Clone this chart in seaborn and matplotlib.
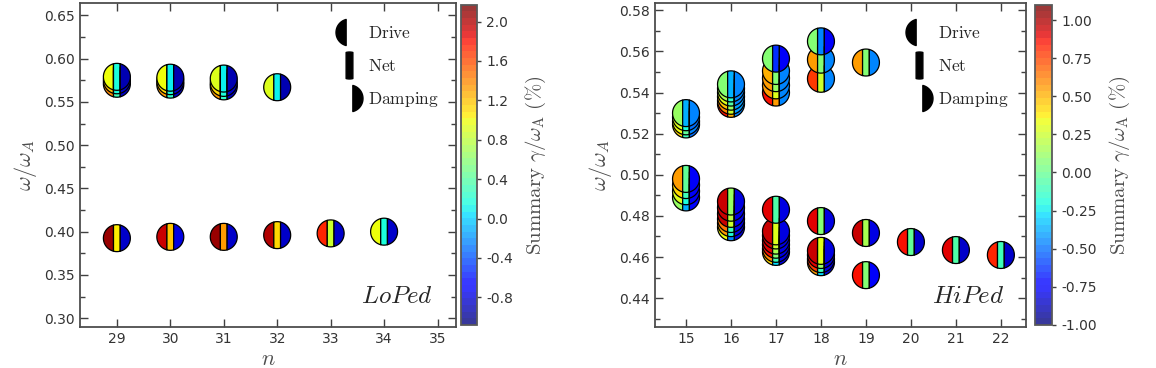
import numpy as np
import pandas as pd
import matplotlib
matplotlib.use("Agg")
import matplotlib.pyplot as plt
import seaborn as sns
from matplotlib.path import Path
from matplotlib.markers import MarkerStyle
from matplotlib.lines import Line2D
from matplotlib.colors import Normalize
from matplotlib.ticker import MultipleLocator

# --- DATA ---
# LoPed
lo_n = [29, 29, 29, 30, 30, 30, 31, 31, 31, 32,
        29, 30, 31, 32, 33, 34]
lo_omega = [0.571, 0.575, 0.579, 0.570, 0.574, 0.578, 0.568, 0.572, 0.577, 0.567,
            0.3925, 0.394, 0.394, 0.396, 0.398, 0.400]
lo_drive = [1.40, 1.20, 1.00, 1.35, 1.15, 1.00, 1.30, 1.10, 0.90, 0.95,
            2.05, 1.95, 2.05, 2.00, 1.70, 1.00]
lo_net = [0.30, 0.20, 0.15, 0.25, 0.20, 0.10, 0.25, 0.15, 0.10, 0.10,
          1.05, 1.20, 1.35, 1.15, 0.85, 0.15]
lo_damping = [-0.85, -0.85, -0.90, -0.85, -0.85, -0.90, -0.85, -0.85, -0.90, -0.90,
              -0.85, -0.80, -0.85, -0.85, -0.85, -0.85]

# HiPed
hi_n = [15, 15, 15, 15,
        16, 16, 16, 16, 16, 16,
        17, 17, 17, 17, 17,
        18, 18, 18,
        19,
        15, 15, 15, 15,
        16, 16, 16, 16, 16, 16,
        17, 17, 17, 17, 17, 17, 17,
        18, 18, 18, 18, 18,
        19, 19, 20, 21, 22]
hi_omega = [0.5245, 0.526, 0.528, 0.530,
            0.5345, 0.536, 0.538, 0.540, 0.542, 0.544,
            0.540, 0.5435, 0.547, 0.5505, 0.5565,
            0.5467, 0.556, 0.5649,
            0.5546,
            0.489, 0.492, 0.495, 0.498,
            0.4745, 0.4765, 0.4785, 0.481, 0.484, 0.487,
            0.4625, 0.464, 0.466, 0.468, 0.4705, 0.4725, 0.483,
            0.4575, 0.459, 0.461, 0.463, 0.4775,
            0.4512, 0.4717, 0.4673, 0.4634, 0.461]
hi_drive = [0.40, 0.35, 0.30, 0.10,
            0.85, 0.60, 0.45, 0.30, 0.15, 0.05,
            0.85, 0.55, 0.55, 0.50, 0.05,
            0.75, 0.55, 0.05,
            0.55,
            0.10, 0.30, 0.40, 0.55,
            0.35, 0.55, 0.65, 0.95, 0.95, 0.95,
            0.40, 0.60, 0.85, 0.90, 0.95, 0.95, 0.90,
            0.55, 0.75, 0.90, 0.95, 0.90,
            0.85, 0.95, 0.85, 0.90, 0.80]
hi_net = [-0.10, 0.00, -0.20, -0.35,
          0.50, 0.25, 0.10, -0.05, -0.15, -0.35,
          0.55, 0.30, 0.10, 0.05, -0.65,
          0.25, 0.05, -0.45,
          0.05,
          -0.35, -0.20, -0.10, 0.00,
          -0.45, -0.20, -0.10, 0.25, 0.20, 0.10,
          -0.30, -0.10, 0.05, 0.15, 0.25, 0.30, -0.05,
          -0.30, -0.10, 0.10, 0.30, 0.05,
          0.05, 0.15, 0.00, -0.05, -0.10]
hi_damping = [-0.50, -0.45, -0.50, -0.45,
              -0.45, -0.40, -0.40, -0.45, -0.45, -0.45,
              -0.45, -0.45, -0.45, -0.45, -0.75,
              -0.45, -0.45, -0.75,
              -0.45,
              -0.70, -0.75, -0.75, -0.75,
              -0.80, -0.80, -0.80, -0.80, -0.80, -0.80,
              -0.80, -0.80, -0.80, -0.80, -0.80, -0.80, -0.80,
              -0.80, -0.80, -0.80, -0.80, -0.80,
              -0.75, -0.80, -0.85, -0.85, -0.85]

lo_ticks = [-0.8, -0.4, 0.0, 0.4, 0.8, 1.2, 1.6, 2.0]
hi_ticks = [-1.0, -0.75, -0.5, -0.25, 0.0, 0.25, 0.5, 0.75, 1.0]

# --- STYLE ---
sns.set_style("ticks")
plt.rcParams["font.family"] = ["DejaVu Sans"]
plt.rcParams["mathtext.fontset"] = "cm"
plt.rcParams["axes.edgecolor"] = "0.3"
plt.rcParams["axes.linewidth"] = 1.3
for ax_ in ("xtick", "ytick"):
    plt.rcParams[ax_ + ".direction"] = "in"
    plt.rcParams[ax_ + ".color"] = "0.25"
    plt.rcParams[ax_ + ".labelcolor"] = "0.2"
    plt.rcParams[ax_ + ".labelsize"] = 10
    plt.rcParams[ax_ + ".major.size"] = 6
    plt.rcParams[ax_ + ".minor.size"] = 3.5
    plt.rcParams[ax_ + ".major.width"] = 1.0
    plt.rcParams[ax_ + ".minor.width"] = 1.0

# --- split-circle markers: Drive (left), Net (stripe), Damping (right) ---
w = 0.25
a = np.arccos(w)
th_l = np.linspace(np.pi - a, np.pi + a, 60)
left_v = np.column_stack([np.cos(th_l), np.sin(th_l)])
left_v = np.vstack([left_v, left_v[:1]])
th_r = np.linspace(-a, a, 60)
right_v = np.column_stack([np.cos(th_r), np.sin(th_r)])
right_v = np.vstack([right_v, right_v[:1]])
top = np.linspace(a, np.pi - a, 40)
bot = np.linspace(np.pi + a, 2 * np.pi - a, 40)
mid_v = np.vstack([np.column_stack([np.cos(top), np.sin(top)]),
                   np.column_stack([np.cos(bot), np.sin(bot)])])
mid_v = np.vstack([mid_v, mid_v[:1]])
pieces = {
    "drive": MarkerStyle(Path(left_v, closed=True)),
    "net": MarkerStyle(Path(mid_v, closed=True)),
    "damping": MarkerStyle(Path(right_v, closed=True)),
}

cmap = plt.get_cmap("jet", 48)
MS = 19.4  # marker diameter in points


def panel(ax, cax, n, omega, drive, net, damping, vmin, vmax, ticks, fmt, name):
    df = pd.DataFrame({"n": n, "omega": omega, "drive": drive,
                       "net": net, "damping": damping}).sort_values("omega")
    norm = Normalize(vmin, vmax)
    for col, mk in pieces.items():
        sns.scatterplot(data=df, x="n", y="omega", hue=col, palette=cmap,
                        hue_norm=norm, marker=mk, s=MS ** 2, edgecolor="k",
                        linewidth=0.9, legend=False, ax=ax, zorder=3)
    sm = plt.cm.ScalarMappable(norm=norm, cmap=cmap)
    cb = plt.colorbar(sm, cax=cax, ticks=ticks, format=fmt, alpha=0.78)
    cb.outline.set_edgecolor("0.35")
    cb.ax.tick_params(direction="out", labelsize=10, length=3)
    cb.set_label(r"$\mathrm{Summary}\ \gamma/\omega_{\mathrm{A}}\ (\%)$",
                 fontsize=15, color="0.3", labelpad=8)
    ax.set_xlabel(r"$n$", fontsize=16, color="0.3", labelpad=2)
    ax.set_ylabel(r"$\omega/\omega_A$", fontsize=16, color="0.3", labelpad=4)
    ax.xaxis.set_major_locator(MultipleLocator(1))
    ax.tick_params(top=True, right=True, which="both")
    ax.text(0.94, 0.06, "$" + name + "$", transform=ax.transAxes,
            ha="right", va="bottom", fontsize=18)
    handles = [Line2D([], [], marker=mk, color="k", linestyle="", markersize=MS)
               for mk in pieces.values()]
    ax.legend(handles, [r"$\mathrm{Drive}$", r"$\mathrm{Net}$", r"$\mathrm{Damping}$"],
              loc="upper right", bbox_to_anchor=(0.955, 0.935), frameon=False,
              borderpad=0, borderaxespad=0, handlelength=1.0, handletextpad=0.6,
              labelspacing=0.85, fontsize=12.5)


fig = plt.figure(figsize=(11.56, 3.68), dpi=100)
ax1 = fig.add_axes([0.0692, 0.111, 0.325, 0.880])
cax1 = fig.add_axes([0.3988, 0.117, 0.0138, 0.870])
ax2 = fig.add_axes([0.5666, 0.111, 0.321, 0.880])
cax2 = fig.add_axes([0.8953, 0.117, 0.0147, 0.870])

panel(ax1, cax1, lo_n, lo_omega, lo_drive, lo_net, lo_damping,
      -1.08, 2.17, lo_ticks, "%.1f", "LoPed")
ax1.set_xlim(28.31, 35.34)
ax1.set_ylim(0.2896, 0.664)
ax1.yaxis.set_major_locator(MultipleLocator(0.05))
ax1.yaxis.set_minor_locator(MultipleLocator(0.025))

panel(ax2, cax2, hi_n, hi_omega, hi_drive, hi_net, hi_damping,
      -1.0, 1.1, hi_ticks, "%.2f", "HiPed")
ax2.set_xlim(14.31, 22.56)
ax2.set_ylim(0.4259, 0.5834)
ax2.yaxis.set_major_locator(MultipleLocator(0.02))
ax2.yaxis.set_minor_locator(MultipleLocator(0.01))

fig.savefig("out.png", dpi=100)
